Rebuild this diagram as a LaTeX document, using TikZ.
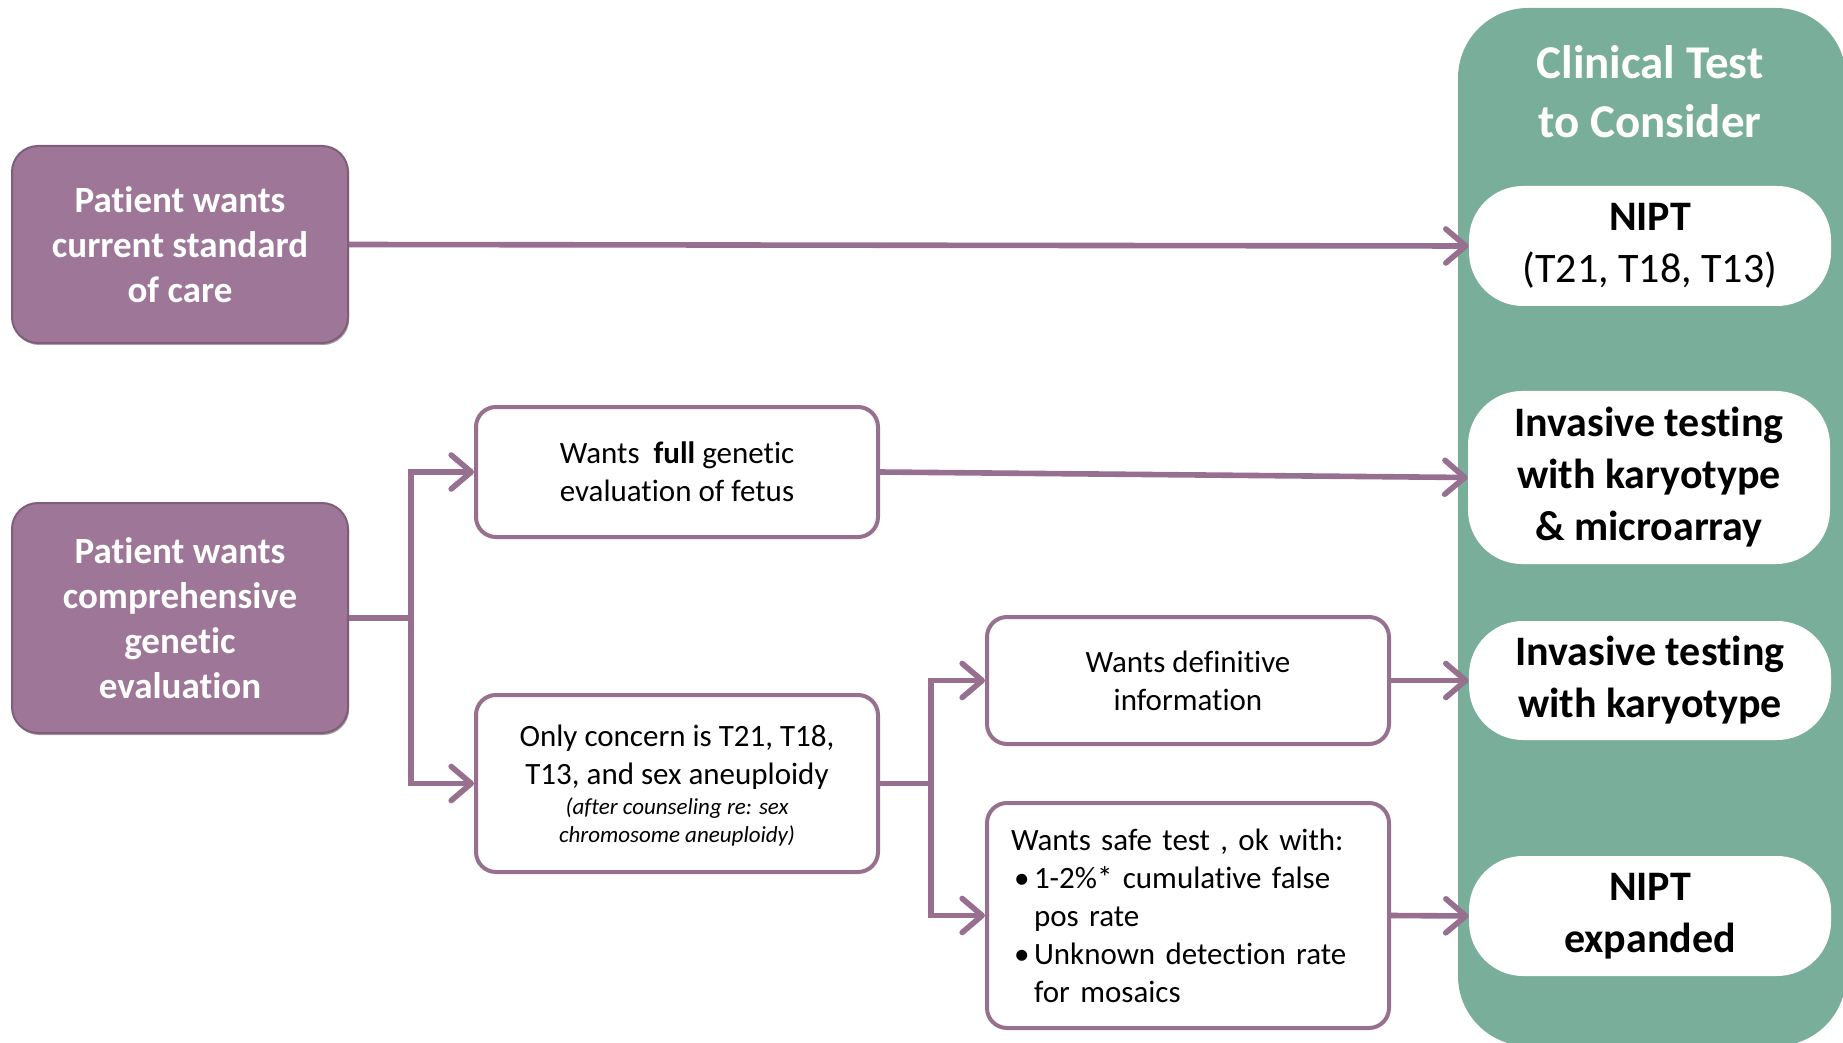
\documentclass[tikz,border=0pt]{standalone}
\usepackage{fontspec}
\setmainfont{Carlito}[Ligatures=CommonOff]
\usetikzlibrary{positioning,arrows.meta,shadows}
\definecolor{mauve}{HTML}{9E7697}
\definecolor{mauveline}{HTML}{976F8F}
\definecolor{sage}{HTML}{79AF9A}

\begin{document}
\begin{tikzpicture}[x=0.5pt, y=-0.5pt] %NIPT
    			\tikzstyle{patientbox} = [rectangle, rounded corners=13pt, draw=mauveline!85!black, line width=1pt, fill=mauve, text=white, align=center, minimum width=168pt, font=\fontsize{18.5}{22.5}\selectfont\bfseries, drop shadow={shadow xshift=0.6pt, shadow yshift=-1pt, opacity=0.5, fill=mauve!50!black}]
    			\tikzstyle{wantbox} = [rectangle, rounded corners=10pt, draw=mauveline, line width=2pt, fill=white, align=center, minimum width=201pt, font=\fontsize{15.5}{19}\selectfont]
    			\tikzstyle{testpill} = [rectangle, rounded corners=27pt, fill=white, align=center, minimum width=181pt, font=\fontsize{21}{26}\selectfont\bfseries]
    			\tikzstyle{conn} = [draw=mauveline, line width=2.8pt, -{Straight Barb[length=10pt, width=17pt, round]}]
    			\tikzstyle{link} = [draw=mauveline, line width=2.8pt]
    			\useasboundingbox (0,0) rectangle (1843,1043);
    			\fill[sage, rounded corners=35pt] (1458,8) rectangle (1846,1046);
    			\node[text=white, align=center, font=\fontsize{23.5}{29.5}\selectfont\bfseries] (title) at (1650,92) {Clinical Test\\to Consider};
    			\node[testpill, minimum height=60pt] (nipt) at (1650,246) {NIPT\\\mdseries(T21, T18, T13)};
    			\node[testpill, minimum height=86.5pt] (invfull) at (1649,477.5) {Invasive testing\\with karyotype\\\& microarray};
    			\node[testpill, minimum height=59.5pt] (invkaryo) at (1650,680.5) {Invasive testing\\with karyotype};
    			\node[testpill, minimum height=60pt] (niptx) at (1650,916) {NIPT\\expanded};
    			\node[patientbox, minimum height=98.5pt] (standard) at (180,244.5) {Patient wants\\current standard\\of care};
    			\node[patientbox, minimum height=115pt] (compre) at (180,618) {Patient wants\\comprehensive\\genetic\\evaluation};
    			\node[wantbox, minimum height=65pt] (fullgen) at (677,472) {Wants~ \textbf{full} genetic\\evaluation of fetus};
    			\node[wantbox, minimum height=88.5pt] (concern) at (677,783.5) {\\[-6pt]Only concern is T21, T18,\\T13, and sex aneuploidy\\[-4pt]{\fontsize{11.5}{14}\selectfont\itshape (after counseling re: sex}\\[-5pt]{\fontsize{11.5}{14}\selectfont\itshape chromosome aneuploidy)}};
    			\node[wantbox, minimum height=63.5pt] (definitive) at (1188,680.5) {Wants definitive\\information};
    			\node[wantbox, minimum height=112.5pt, align=left, inner xsep=12pt, text width=177pt] (safe) at (1188,915.5) {Wants safe test , ok with:\\\makebox[11.5pt][l]{\hspace{1.5pt}\textbullet}1-2\%* cumulative false\\\hspace*{11.5pt}pos rate\\\makebox[11.5pt][l]{\hspace{1.5pt}\textbullet}Unknown detection rate\\\hspace*{11.5pt}for mosaics};
    			\coordinate (splitA) at (411,618);
    			\coordinate (splitB) at (931,783.5);
    			\draw[conn] (standard.east) -- (nipt.west);
    			\draw[link] (compre.east) -- (splitA);
    			\draw[conn] (splitA) |- (fullgen.west);
    			\draw[conn] (splitA) |- (concern.west);
    			\draw[conn] (fullgen.east) -- (invfull.west);
    			\draw[link] (concern.east) -- (splitB);
    			\draw[conn] (splitB) |- (definitive.west);
    			\draw[conn] (splitB) |- (safe.west);
    			\draw[conn] (definitive.east) -- (invkaryo.west);
    			\draw[conn] (safe.east) -- (niptx.west);
		\end{tikzpicture}
\end{document}
